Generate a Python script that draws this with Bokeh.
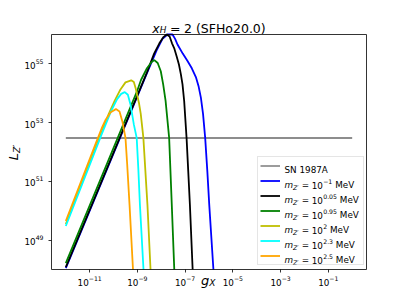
import math
import numpy as np
from bokeh.plotting import figure
from bokeh.models import Label, Legend, LegendItem, FixedTicker, BoxAnnotation
from bokeh.embed import file_html
from bokeh.resources import INLINE

FONT = "DejaVu Sans"

# ---------------- data (log10 values) ----------------
x_lim_exp = [-12.6, 0.6]
y_lim_exp = [48.0, 56.0]
x_tick_exp = [-11, -9, -7, -5, -3, -1]
y_tick_exp = [49, 51, 53, 55]

sn_label = "SN 1987A"
sn_g_exp = [-12.0, 0.0]
sn_L = [3e52, 3e52]

mass_exp_labels = ["\u22121", "0.05", "0.95", "2", "2.3", "2.5"]
colors = ["blue", "black", "green", "#bfbf00", "cyan", "orange"]

blue_g = [-12.0, -8.6, -8.2, -7.95, -7.74, -7.53, -7.42, -7.32, -7.1, -6.90,
          -6.72, -6.55, -6.44, -6.34, -6.25, -6.16, -6.07, -5.99, -5.815]
blue_L = [48.05, 54.68, 55.45, 55.85, 56.0, 56.0, 55.85, 55.66, 55.35, 55.1,
          54.85, 54.55, 54.25, 53.85, 53.3, 52.48, 51.35, 50.21, 48.0]

black_g = [-12.0, -8.6, -8.3, -8.08, -7.9, -7.77, -7.65, -7.55, -7.46, -7.36, -7.26,
           -7.18, -7.11, -7.04, -6.94, -6.87, -6.80, -6.685]
black_L = [48.08, 54.71, 55.35, 55.7, 55.92, 56.0, 55.93, 55.7, 55.54, 55.27, 54.98,
           54.65, 54.30, 53.73, 52.48, 51.35, 50.2, 48.0]

green_g = [-12.0, -9.0, -8.85, -8.6, -8.42, -8.29, -8.15, -8.02, -7.92, -7.82, -7.67,
           -7.56, -7.455]
green_L = [48.22, 54.1, 54.45, 54.85, 55.05, 55.13, 55.03, 54.75, 54.3, 53.75, 52.48,
           50.21, 48.0]

yellow_g = [-12.0, -10.2, -9.95, -9.71, -9.50, -9.26, -9.15, -9.08, -8.93, -8.86, -8.75,
            -8.58, -8.45]
yellow_L = [49.55, 53.3, 53.75, 54.13, 54.37, 54.44, 54.38, 54.19, 53.65, 53.3, 52.48,
            50.21, 48.0]

cyan_g = [-12.0, -10.5, -10.1, -9.85, -9.68, -9.53, -9.40, -9.29, -9.15, -9.03, -8.96,
          -8.895, -8.745]
cyan_L = [49.48, 52.6, 53.4, 53.8, 53.98, 54.04, 53.95, 53.62, 52.94, 52.48, 51.4,
          50.21, 48.0]

orange_g = [-12.0, -10.74, -10.5, -10.33, -10.12, -9.90, -9.75, -9.63, -9.50, -9.43,
            -9.33, -9.185]
orange_L = [49.65, 52.3, 52.8, 53.1, 53.35, 53.46, 53.38, 53.04, 52.48, 51.6,
            50.21, 48.0]

curves = [(blue_g, blue_L), (black_g, black_L), (green_g, green_L),
          (yellow_g, yellow_L), (cyan_g, cyan_L), (orange_g, orange_L)]

# ---------------- geometry: plot box inside a full-canvas frame ----------------
W_CANVAS, H_CANVAS = 391, 289
BOX_L, BOX_R, BOX_T, BOX_B = 51, 366, 34, 269          # pixels inside the canvas
px_per_dec_x = (BOX_R - BOX_L) / (x_lim_exp[1] - x_lim_exp[0])
px_per_dec_y = (BOX_B - BOX_T) / (y_lim_exp[1] - y_lim_exp[0])
xr = (x_lim_exp[0] - BOX_L / px_per_dec_x, x_lim_exp[1] + (W_CANVAS - BOX_R) / px_per_dec_x)
yr = (y_lim_exp[0] - (H_CANVAS - BOX_B) / px_per_dec_y, y_lim_exp[1] + BOX_T / px_per_dec_y)

p = figure(width=W_CANVAS, height=H_CANVAS, x_axis_type="log", y_axis_type="log",
           x_range=(10 ** xr[0], 10 ** xr[1]), y_range=(10 ** yr[0], 10 ** yr[1]),
           output_backend="svg", toolbar_location=None, min_border=0)
if p.title is not None:
    p.title.visible = False

p.background_fill_color = "white"
p.border_fill_color = "white"
p.xgrid.visible = False
p.ygrid.visible = False
p.outline_line_color = None

p.xaxis.ticker = FixedTicker(ticks=[10.0 ** e for e in x_tick_exp])
p.yaxis.ticker = FixedTicker(ticks=[10.0 ** e for e in y_tick_exp])
p.xaxis.fixed_location = 10 ** y_lim_exp[0]
p.yaxis.fixed_location = 10 ** x_lim_exp[0]
for ax in (p.xaxis, p.yaxis):
    ax.major_label_text_font = FONT
    ax.major_label_text_font_size = "8.8px"
    ax.major_label_text_color = "black"
    ax.major_tick_out = 3
    ax.major_tick_in = 0
    ax.major_tick_line_color = "black"
    ax.major_tick_line_width = 0.8
    ax.minor_tick_line_color = None
    ax.axis_line_color = None
p.xaxis.major_label_standoff = 3
p.yaxis.major_label_standoff = 5

# ---------------- lines ----------------
sn_r = p.line(np.power(10.0, sn_g_exp), sn_L, line_color="black", line_alpha=0.6, line_width=1.3)

curve_rs = []
for (gx, lx), c in zip(curves, colors):
    r = p.line(np.power(10.0, gx), np.power(10.0, lx), line_color=c, line_width=1.8)
    curve_rs.append(r)

# axes box
box = BoxAnnotation(left=10 ** x_lim_exp[0], right=10 ** x_lim_exp[1],
                    bottom=10 ** y_lim_exp[0], top=10 ** y_lim_exp[1],
                    fill_alpha=0, fill_color=None, line_color="black",
                    line_alpha=1, line_width=0.8)
p.add_layout(box)

LEG_LEFT, LEG_BOTTOM = 257, 265
items = [LegendItem(label=" ", renderers=[r]) for r in [sn_r] + curve_rs]
legend = Legend(items=items, location=(LEG_LEFT, H_CANVAS - LEG_BOTTOM), padding=2, spacing=2,
                glyph_height=13, glyph_width=20, label_height=13, label_width=76,
                label_standoff=5, margin=0, label_text_font=FONT,
                label_text_font_size="8.8px", label_text_color="black",
                border_line_color="#cccccc", border_line_width=1,
                background_fill_alpha=0)
p.add_layout(legend)

# ---------------- rich text helper ----------------
W = {' ': 0.318, '0': 0.636, '1': 0.636, '2': 0.636, '3': 0.636, '4': 0.636, '5': 0.636,
     '6': 0.636, '7': 0.636, '8': 0.636, '9': 0.636, '.': 0.318, '(': 0.390, ')': 0.390,
     '=': 0.838, '\u2212': 0.838, 'm': 0.974, 'Z': 0.686, '\u2032': 0.29, 'M': 0.863,
     'e': 0.615, 'V': 0.684, 'x': 0.592, 'H': 0.752, 'S': 0.635, 'F': 0.575, 'o': 0.612,
     'g': 0.635, 'X': 0.686, 'L': 0.557}


def tw(s, size):
    return sum(W.get(ch, 0.6) for ch in s) * size


def to_y(py):
    return H_CANVAS - py


def rich(pieces, x, y, vertical=False):
    """pieces: (text, font px, baseline shift px, italic, gap before px)"""
    cur = x if not vertical else y
    for text, size, shift, italic, gap in pieces:
        cur += gap
        kw = dict(x_units="screen", y_units="screen", text=text, text_font=FONT,
                  text_font_size=f"{size}px", text_color="black",
                  text_font_style="italic" if italic else "normal",
                  text_baseline="alphabetic", text_align="left", level="overlay")
        if vertical:
            lab = Label(x=x - shift, y=cur, angle=math.pi / 2, **kw)
        else:
            lab = Label(x=cur, y=y + shift, **kw)
        p.add_layout(lab)
        cur += tw(text, size)


# title  x_H = 2 (SFHo20.0)
title_pieces = [("x", 12.5, 0, True, 0), ("H", 8.8, -2.3, True, 0),
                ("=", 12.5, 0, False, 3.6), ("2", 12.5, 0, False, 3.6),
                ("(SFHo20.0)", 12.5, 0, False, 4.0)]
tw_total = sum(tw(t, s) + g for t, s, _, _, g in title_pieces)
rich(title_pieces, (BOX_L + BOX_R) / 2 - tw_total / 2, to_y(27.5))

# x label  g_X
rich([("g", 13, 0, True, 0), ("X", 9.1, -2.5, True, 0)], 200.5, to_y(280))

# y label  L_Z'
rich([("L", 13, 0, True, 0), ("Z\u2032", 9.1, -3.0, True, 0)], 13, to_y(159.7), vertical=True)

# legend labels
TEXT_X = LEG_LEFT + 27
rich([(sn_label, 8.8, 0, False, 0)], TEXT_X, to_y(LEG_BOTTOM - 95.3))
for i, e in enumerate(mass_exp_labels):
    base_y = to_y(LEG_BOTTOM - 95.3 + 15 * (i + 1))
    rich([("m", 8.8, 0, True, 0), ("Z\u2032", 6.2, -1.8, True, 0),
          ("=", 8.8, 0, False, 2.6), ("10", 8.8, 0, False, 2.6),
          (e, 6.2, 3.6, False, 0.3), ("MeV", 8.8, 0, False, 2.8)], TEXT_X, base_y)

open("out.html", "w").write(file_html(p, INLINE))
